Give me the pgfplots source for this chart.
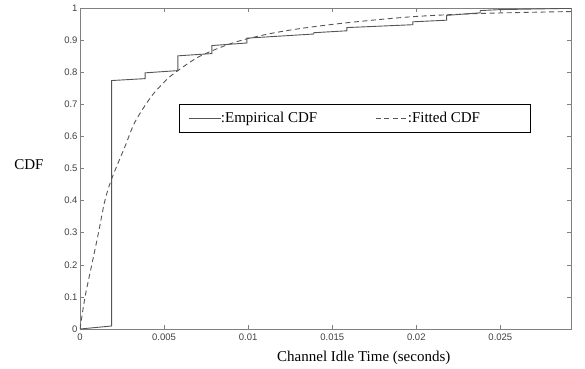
\documentclass[border=0pt]{standalone}
\usepackage{fontspec}
\setmainfont{Liberation Serif}
\setsansfont{Liberation Sans}
\usepackage{pgfplots}
\pgfplotsset{compat=1.18}
\definecolor{curve}{HTML}{555555}
\definecolor{axisgray}{HTML}{808080}
\definecolor{ticktext}{HTML}{404040}
\begin{document}
\begin{tikzpicture}[x=1pt,y=1pt]
\begin{axis}[
  at={(0,0)}, anchor=south west,
  scale only axis, width=491pt, height=321pt,
  xmin=0, xmax=0.0292, ymin=0, ymax=1,
  axis line style={axisgray, line width=0.7pt},
  tick style={axisgray, line width=0.6pt},
  major tick length=4pt,
  tick align=inside,
  xtick={0,0.005,0.01,0.015,0.02,0.025},
  xticklabels={0,0.005,0.01,0.015,0.02,0.025},
  ytick={0,0.1,0.2,0.3,0.4,0.5,0.6,0.7,0.8,0.9,1},
  yticklabels={0,0.1,0.2,0.3,0.4,0.5,0.6,0.7,0.8,0.9,1},
  scaled x ticks=false,
  tick label style={font=\sffamily\fontsize{9.5}{10}\selectfont, text=ticktext},
  xticklabel style={yshift=-1pt},
  yticklabel style={xshift=1pt},
  xlabel={Channel Idle Time (seconds)},
  ylabel={CDF},
  label style={font=\fontsize{15}{17}\selectfont},
  xlabel style={at={(axis description cs:0.578,-0.09)}, anchor=center},
  ylabel style={rotate=-90, at={(axis description cs:-0.104,0.511)}, anchor=center},
  legend columns=2,
  legend style={at={(axis cs:0.00589,0.7025)}, anchor=north west,
    draw=black, line width=0.7pt, font=\fontsize{15}{17}\selectfont,
    inner xsep=9pt, inner ysep=6.5pt,
    nodes={inner xsep=0pt},
    /tikz/column 2/.style={column sep=58pt}},
  legend image code/.code={\draw[#1, line width=0.6pt] (0pt,0pt) -- (32pt,0pt);},
]
\addplot[curve, line width=0.9pt] coordinates {
(0,0) (0.00188,0.0094) (0.00188,0.774) (0.00387,0.780) (0.00387,0.798)
(0.00582,0.805) (0.00582,0.851) (0.00784,0.858) (0.00784,0.883)
(0.00992,0.891) (0.00992,0.906) (0.0139,0.919) (0.0139,0.923)
(0.01587,0.929) (0.01587,0.939) (0.0198,0.948) (0.0198,0.957)
(0.0218,0.962) (0.0218,0.977) (0.0238,0.985) (0.0238,0.992)
(0.0250,0.995) (0.0292,0.999)
};
\addlegendentry{:Empirical CDF}
\addplot[curve, line width=0.9pt, dash pattern=on 5pt off 3.5pt, smooth] coordinates {
(0,0) (0.0003,0.1) (0.0007,0.2) (0.0011,0.3) (0.00148,0.4) (0.0019,0.47)
(0.00268,0.569) (0.00327,0.645) (0.00425,0.725) (0.00516,0.777)
(0.00585,0.806) (0.00714,0.850) (0.00913,0.892) (0.0111,0.918)
(0.0131,0.936) (0.01587,0.954) (0.0198,0.973) (0.0238,0.983) (0.0292,0.989)
};
\addlegendentry{\makebox[114pt][l]{:Fitted CDF}}
\end{axis}
\pgfresetboundingbox
\path[use as bounding box] (-80,-39) rectangle (505,329);
\end{tikzpicture}
\end{document}
